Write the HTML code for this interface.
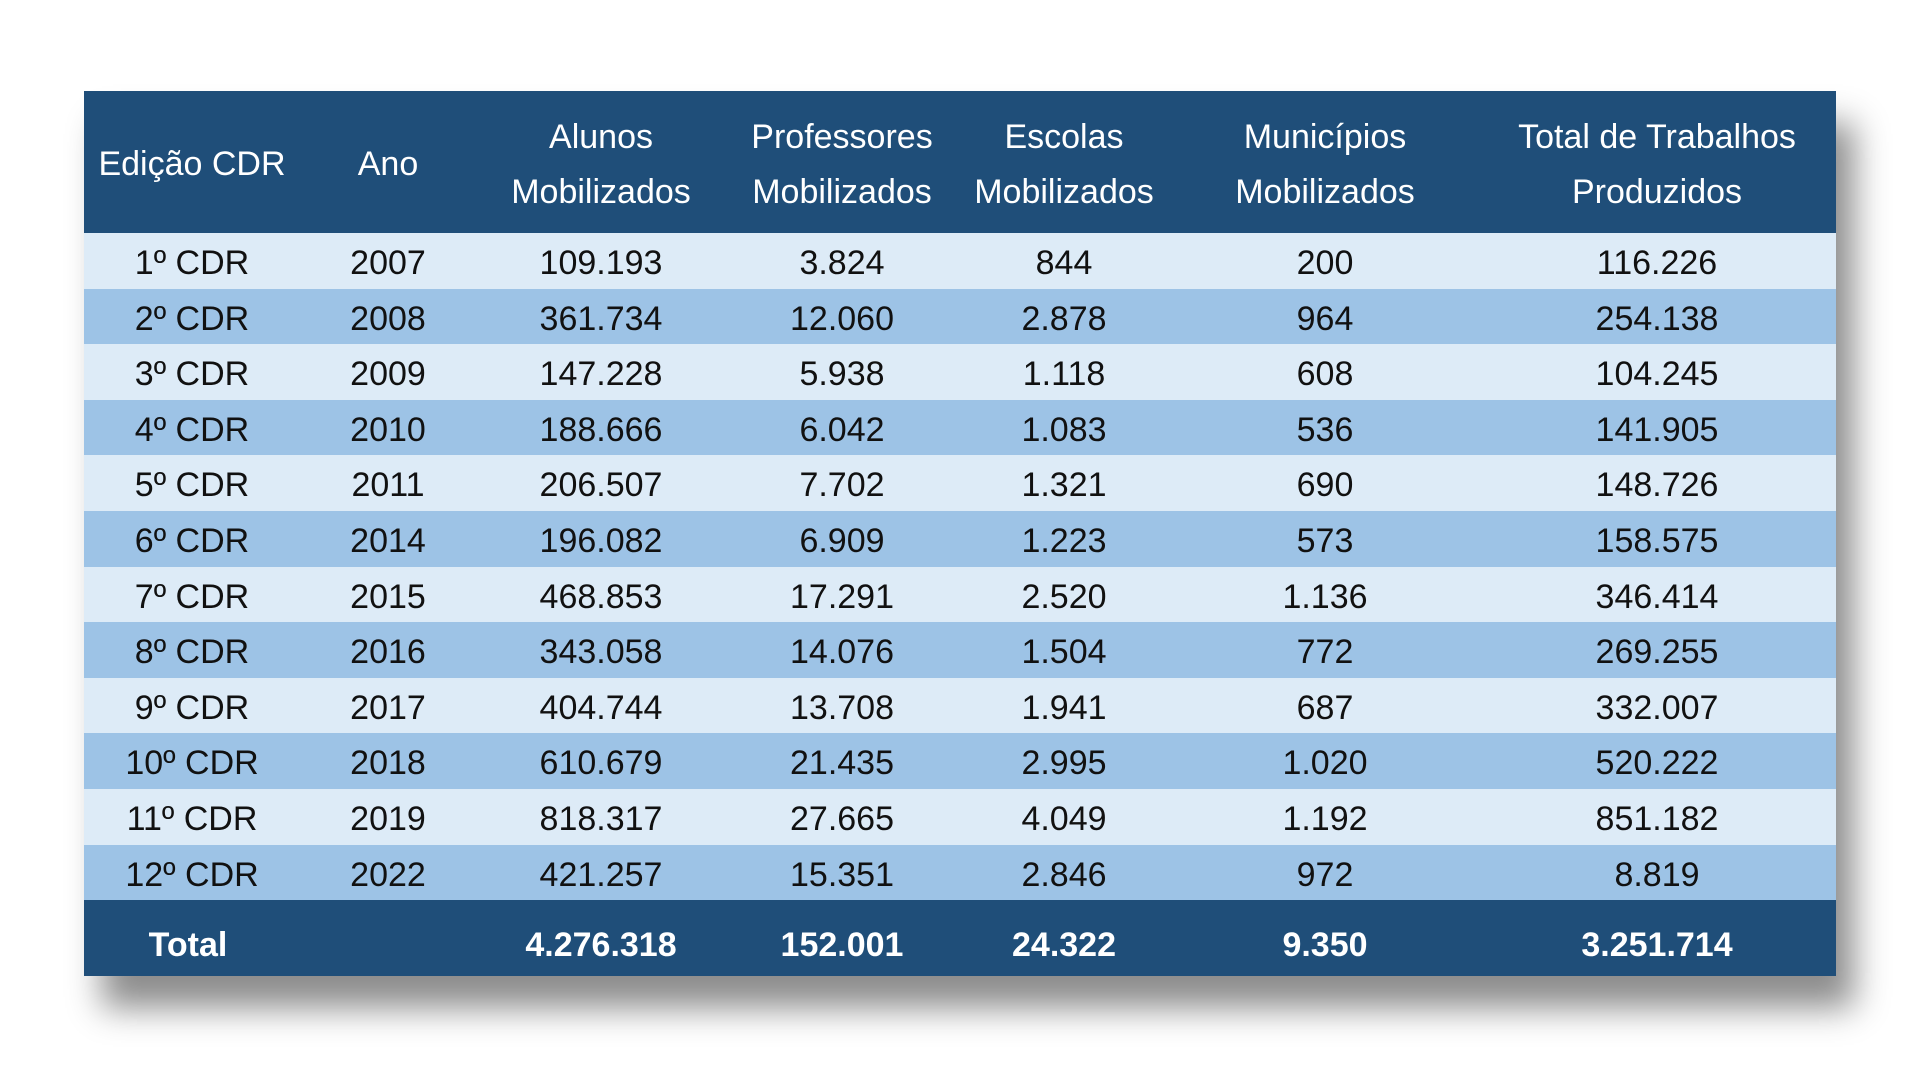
<!DOCTYPE html>
<html><head><meta charset="utf-8"><style>
body{margin:0;width:1920px;height:1080px;background:#fff;overflow:hidden;font-family:"Liberation Sans",sans-serif;}
.t{position:absolute;left:84px;top:91px;width:1752px;box-shadow:18px 32px 32px rgba(0,0,0,.45);}
.r{position:relative;height:55.6px;}
.r div{position:absolute;top:3px;transform:translateX(-50%);white-space:nowrap;line-height:55.6px;font-size:34px;color:#111;}
.h{height:142px;background:#1f4e79;position:relative;}
.h div{position:absolute;transform:translateX(-50%);text-align:center;color:#fff;font-size:34px;line-height:55px;white-space:nowrap;top:19px;}
.l{background:#ddebf7}.d{background:#9dc3e6}
.tot{height:76px;background:#1f4e79;position:relative;}
.tot div{position:absolute;transform:translateX(-50%);color:#fff;font-size:34px;font-weight:bold;line-height:76px;top:7px;white-space:nowrap;}
</style></head><body>
<div class="t">
<div class="h">
<div style="left:108px;top:46px">Edição CDR</div>
<div style="left:304px;top:46px">Ano</div>
<div style="left:517px">Alunos<br>Mobilizados</div>
<div style="left:758px">Professores<br>Mobilizados</div>
<div style="left:980px">Escolas<br>Mobilizados</div>
<div style="left:1241px">Municípios<br>Mobilizados</div>
<div style="left:1573px">Total de Trabalhos<br>Produzidos</div>
</div>
<div id="rows"></div>
<div class="tot">
<div style="left:104px">Total</div>
<div style="left:517px">4.276.318</div>
<div style="left:758px">152.001</div>
<div style="left:980px">24.322</div>
<div style="left:1241px">9.350</div>
<div style="left:1573px">3.251.714</div>
</div>
</div>
<script>
var d=[["1º CDR","2007","109.193","3.824","844","200","116.226"],
["2º CDR","2008","361.734","12.060","2.878","964","254.138"],
["3º CDR","2009","147.228","5.938","1.118","608","104.245"],
["4º CDR","2010","188.666","6.042","1.083","536","141.905"],
["5º CDR","2011","206.507","7.702","1.321","690","148.726"],
["6º CDR","2014","196.082","6.909","1.223","573","158.575"],
["7º CDR","2015","468.853","17.291","2.520","1.136","346.414"],
["8º CDR","2016","343.058","14.076","1.504","772","269.255"],
["9º CDR","2017","404.744","13.708","1.941","687","332.007"],
["10º CDR","2018","610.679","21.435","2.995","1.020","520.222"],
["11º CDR","2019","818.317","27.665","4.049","1.192","851.182"],
["12º CDR","2022","421.257","15.351","2.846","972","8.819"]];
var x=[108,304,517,758,980,1241,1573],h="";
d.forEach(function(r,i){h+='<div class="r '+(i%2?'d':'l')+'">';r.forEach(function(c,j){h+='<div style="left:'+x[j]+'px">'+c+'</div>'});h+='</div>'});
document.getElementById("rows").innerHTML=h;
</script>
</body></html>
